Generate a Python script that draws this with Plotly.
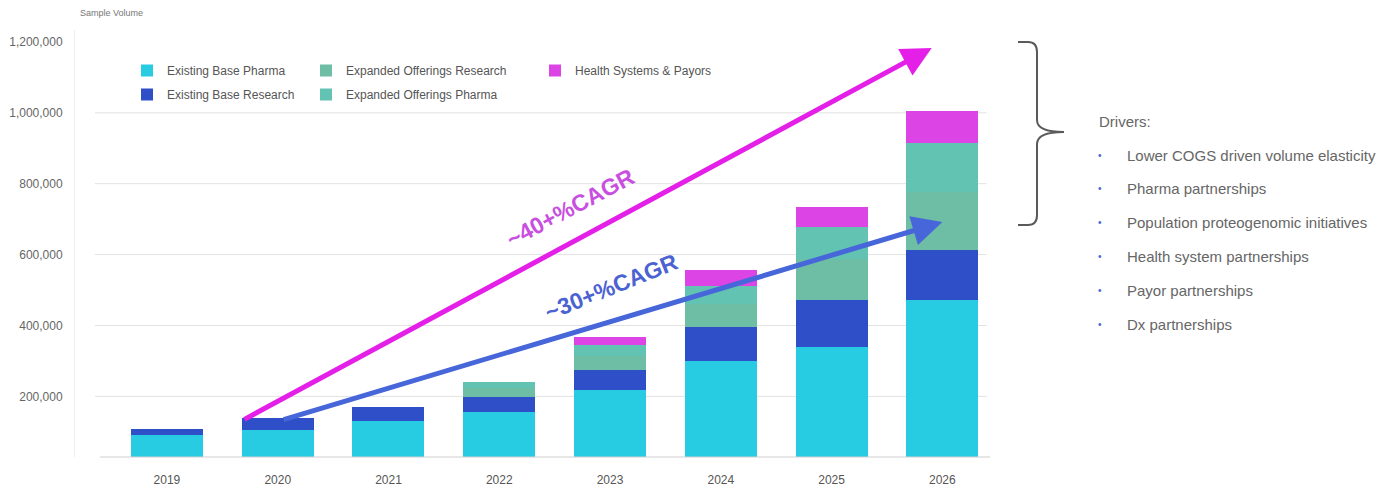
import plotly.graph_objects as go

# ---------------- data ----------------
years = ["2019", "2020", "2021", "2022", "2023", "2024", "2025", "2026"]
existing_base_pharma = [90000, 104000, 131000, 155000, 219000, 300000, 339000, 472000]
existing_base_research = [17000, 34000, 38000, 42000, 56000, 96000, 134000, 141000]
expanded_offerings_research = [0, 0, 0, 26000, 40000, 66000, 114000, 165000]
expanded_offerings_pharma = [0, 0, 0, 18000, 30000, 50000, 90000, 136000]
health_systems_payors = [0, 0, 0, 0, 22000, 44000, 58000, 92000]

series_names = ["Existing Base Pharma", "Existing Base Research",
                "Expanded Offerings Research", "Expanded Offerings Pharma",
                "Health Systems & Payors"]
tick_values = [200000, 400000, 600000, 800000, 1000000, 1200000]
grid_values = [200000, 400000, 600000, 800000, 1000000]

drivers_title = "Drivers:"
drivers = ["Lower COGS driven volume elasticity", "Pharma partnerships",
           "Population proteogenomic initiatives", "Health system partnerships",
           "Payor partnerships", "Dx partnerships"]

# ---------------- layout helpers (window pixel coordinates) ----------------
W, H = 1396, 489
OFF = 8  # default page body margin
L, R, T, B = 75, 990, 30, 457


def px(x):
    return (x - L) / (R - L)


def py(y):
    return (B - y) / (B - T)


FONT = "Arial, Liberation Sans, sans-serif"
colors = ["#27cbe2", "#2f4fc8", "#6dbea4", "#62c3b2", "#dc44e6"]
values = [existing_base_pharma, existing_base_research, expanded_offerings_research,
          expanded_offerings_pharma, health_systems_payors]
legend_ids = ["legend", "legend2", "legend3", "legend4", "legend5"]

fig = go.Figure()
for name, vals, col, lg in zip(series_names, values, colors, legend_ids):
    fig.add_trace(go.Bar(x=years, y=vals, name=name, marker=dict(color=col, line=dict(width=0)),
                         legend=lg))

# legends: column-major grid
legend_pos = {
    "legend": (127, 56), "legend2": (127, 80),
    "legend3": (306, 56), "legend4": (306, 80),
    "legend5": (535, 56),
}
legend_layouts = {}
for lg, (lx, ly) in legend_pos.items():
    legend_layouts[lg] = dict(x=px(lx), y=py(ly), xanchor="left", yanchor="top",
                              bgcolor="rgba(0,0,0,0)", font=dict(family=FONT, size=12, color="#555"))

shapes = []
for g in grid_values:
    shapes.append(dict(type="line", xref="x", yref="y", x0=-0.65, x1=7.4, y0=g, y1=g,
                       line=dict(color="#e2e2e2", width=1), layer="below"))
# bottom axis line
shapes.append(dict(type="line", xref="paper", yref="paper", x0=px(100), x1=px(990), y0=0, y1=0,
                   line=dict(color="#cfcfcf", width=1.2)))

# brace on the right
pts = "M{0},{1} L{2},{1} Q{3},{1} {3},{4} L{3},{5} Q{3},{6} {7},{6} Q{3},{6} {3},{8} L{3},{9} Q{3},{10} {2},{10} L{0},{10}"
bp = [px(1018), py(42), px(1028), px(1037), py(52), py(120), py(132), px(1064),
      py(144), py(215), py(225)]
shapes.append(dict(type="path", xref="paper", yref="paper",
                   path=pts.format(*["%.5f" % v for v in bp]),
                   line=dict(color="#5a5a5a", width=2)))

annotations = []
# CAGR arrows
annotations.append(dict(x=6.904, y=1183000, ax=0.686, ay=133000, xref="x", yref="y",
                        axref="x", ayref="y", showarrow=True, arrowhead=2, arrowsize=1.2,
                        arrowwidth=5, arrowcolor="#e41fe8", text=""))
annotations.append(dict(x=7.0, y=692000, ax=1.04, ay=133000, xref="x", yref="y",
                        axref="x", ayref="y", showarrow=True, arrowhead=2, arrowsize=1.2,
                        arrowwidth=5, arrowcolor="#4766d9", text=""))
annotations.append(dict(x=px(570), y=py(208), xref="paper", yref="paper", text="<b>~40+%CAGR</b>",
                        showarrow=False, textangle=-28, font=dict(family=FONT, size=23, color="#c94fe0")))
annotations.append(dict(x=px(611), y=py(287), xref="paper", yref="paper", text="<b>~30+%CAGR</b>",
                        showarrow=False, textangle=-22, font=dict(family=FONT, size=23, color="#4b62d2")))
# axis title
annotations.append(dict(x=px(78), y=py(13), xref="paper", yref="paper", text="Sample Volume",
                        showarrow=False, xanchor="left", yanchor="middle",
                        font=dict(family=FONT, size=9, color="#777")))
# drivers text
annotations.append(dict(x=px(1097), y=py(121), xref="paper", yref="paper", text=drivers_title,
                        showarrow=False, xanchor="left", yanchor="middle",
                        font=dict(family=FONT, size=15, color="#666")))
for i, d in enumerate(drivers):
    yy = 155 + i * 33.8
    annotations.append(dict(x=px(1100), y=py(yy), xref="paper", yref="paper", text="•",
                            showarrow=False, xanchor="center", yanchor="middle",
                            font=dict(family=FONT, size=10, color="#3f63dd")))
    annotations.append(dict(x=px(1125), y=py(yy), xref="paper", yref="paper", text=d,
                            showarrow=False, xanchor="left", yanchor="middle",
                            font=dict(family=FONT, size=15, color="#666")))

ymin = (467.3 - B) / 0.3545 * 1000
ymax = (467.3 - T) / 0.3545 * 1000

fig.update_layout(
    width=W - OFF, height=H - OFF,
    margin=dict(l=L - OFF, r=W - R, t=T - OFF, b=H - B, autoexpand=False),
    paper_bgcolor="white", plot_bgcolor="white",
    barmode="stack", bargap=0.35,
    font=dict(family=FONT),
    showlegend=True,
    shapes=shapes, annotations=annotations,
    xaxis=dict(type="category", range=[-0.83, 7.43], showgrid=False, showline=False,
               automargin=False,
               ticks="", tickfont=dict(family=FONT, size=12, color="#555"), ticklabelstandoff=14),
    yaxis=dict(range=[ymin, ymax], tickvals=tick_values, tickformat=",d", showgrid=False,
               automargin=False,
               zeroline=False, showline=True, linecolor="#eeeeee", linewidth=1, ticks="",
               tickfont=dict(family=FONT, size=12, color="#666"), ticklabelstandoff=9),
    **legend_layouts,
)

fig.write_html("out.html")
